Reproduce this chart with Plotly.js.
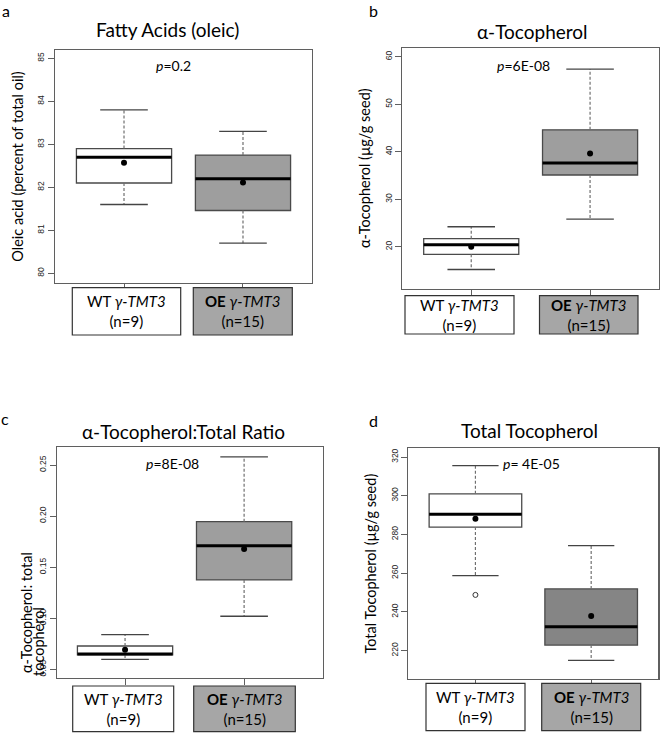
<!DOCTYPE html>
<html>
<head>
<meta charset="utf-8">
<script src="https://cdn.plot.ly/plotly-3.0.1.min.js"></script>
<style>html,body{margin:0;padding:0;background:#fff}</style>
</head>
<body>
<div id="chart" style="width:660px;height:733px"></div>
<script>
// ---------------- DATA ----------------
const categories = ["WT γ-TMT3", "OE γ-TMT3"];
const groupN = [9, 15];
const panelTitles = ["Fatty Acids (oleic)", "α-Tocopherol", "α-Tocopherol:Total Ratio", "Total Tocopherol"];
const panelLetters = ["a", "b", "c", "d"];
const pValues = ["0.2", "6E-08", "8E-08", " 4E-05"];
const yTitles = ["Oleic acid (percent of total oil)", "α-Tocopherol (µg/g seed)", "α-Tocopherol: total tocopherol", "Total Tocopherol (µg/g seed)"];

// panel a: oleic acid (% of total oil)
const oleicQ1 = [82.10, 81.46];
const oleicMedian = [82.70, 82.20];
const oleicQ3 = [82.90, 82.75];
const oleicLower = [81.60, 80.70];
const oleicUpper = [83.80, 83.30];
const oleicMean = [82.57, 82.11];

// panel b: alpha-tocopherol (µg/g seed)
const alphaQ1 = [18.4, 35.1];
const alphaMedian = [20.4, 37.6];
const alphaQ3 = [21.7, 44.6];
const alphaLower = [15.2, 25.8];
const alphaUpper = [24.2, 57.4];
const alphaMean = [20.0, 39.6];

// panel c: alpha : total ratio
const ratioQ1 = [0.0642, 0.1376];
const ratioMedian = [0.0652, 0.1710];
const ratioQ3 = [0.0729, 0.1945];
const ratioLower = [0.0599, 0.1020];
const ratioUpper = [0.0840, 0.2580];
const ratioMean = [0.0693, 0.1678];

// panel d: total tocopherol (µg/g seed)
const totalQ1 = [283.8, 222.9];
const totalMedian = [290.5, 232.3];
const totalQ3 = [301.0, 251.9];
const totalLower = [258.8, 215.0];
const totalUpper = [315.5, 274.2];
const totalMean = [288.1, 237.9];
const totalOutliersWT = [248.8];

// y tick labels
const yTicks = [
  [80, 81, 82, 83, 84, 85],
  [20, 30, 40, 50, 60],
  [0.05, 0.10, 0.15, 0.20, 0.25],
  [220, 240, 260, 280, 300, 320]
];

// ---------------- LAYOUT CONFIG (pixels) ----------------
const W = 660, H = 733;
const px = p => p / W;
const py = p => 1 - p / H;
const positions = [1, 2];

const panels = [
  {stats:[oleicQ1, oleicMedian, oleicQ3, oleicLower, oleicUpper, oleicMean],
   box:[55,312,50,283], xr:[0.42,2.58], yr:[79.774,85.193], fmt:"d", oeFill:"#9e9e9e",
   lab:{y:[287.7,335], x:[[72.3,180.7],[193.3,292.3]]},
   title:[167.7,30], letter:[6,11], p:[173,66]},
  {stats:[alphaQ1, alphaMedian, alphaQ3, alphaLower, alphaUpper, alphaMean],
   box:[402.3,659,47.7,288.7], xr:[0.42,2.58], yr:[11.158,61.895], fmt:"d", oeFill:"#9e9e9e",
   lab:{y:[295.7,334], x:[[405,514],[539.5,638]]},
   title:[532.5,31.5], letter:[373,11], p:[523,66]},
  {stats:[ratioQ1, ratioMedian, ratioQ3, ratioLower, ratioUpper, ratioMean],
   box:[56.7,322.7,446.7,677.7], xr:[0.426,2.66], yr:[0.0419,0.2679], fmt:".2f", oeFill:"#9e9e9e",
   lab:{y:[686,731.7], x:[[72.7,173.7],[193.7,295.3]]},
   title:[183.5,431.5], letter:[5,418], p:[172,463]},
  {stats:[totalQ1, totalMedian, totalQ3, totalLower, totalUpper, totalMean],
   box:[408.3,658.3,448.3,679], xr:[0.42,2.58], yr:[205.39,324.49], fmt:"d", oeFill:"#858585",
   lab:{y:[683.3,730.7], x:[[426,525],[541.7,640.7]]},
   title:[529.5,430], letter:[373,420], p:[531,463]}
];

const FONT = "Lato, 'Open Sans', sans-serif";
const SANS = "'Liberation Sans', Arial, sans-serif";
const frameColor = "#5f5f5f";

const traces = [];
const layout = {
  width: W, height: H,
  margin: {l:0, r:0, t:0, b:0},
  paper_bgcolor: "#fff", plot_bgcolor: "#fff",
  showlegend: false,
  boxmode: "overlay",
  font: {family: FONT, color: "#000"},
  shapes: [], annotations: []
};

panels.forEach((P, k) => {
  const sfx = k === 0 ? "" : String(k + 1);
  const xa = "x" + sfx, ya = "y" + sfx;
  const [q1, med, q3, lo, hi, mn] = P.stats;

  layout["xaxis" + sfx] = {
    domain: [px(P.box[0]), px(P.box[1])], range: P.xr, anchor: ya,
    showline: true, mirror: true, linecolor: frameColor, linewidth: 1.2,
    ticks: "outside", tickvals: positions, ticklen: 6, tickcolor: frameColor, tickwidth: 1,
    showticklabels: false, showgrid: false, zeroline: false, fixedrange: true
  };
  layout["yaxis" + sfx] = {
    domain: [py(P.box[3]), py(P.box[2])], range: P.yr, anchor: xa,
    showline: true, mirror: true, linecolor: frameColor, linewidth: 1.2,
    ticks: "outside", ticklen: 6, tickcolor: frameColor, tickwidth: 1,
    tickvals: yTicks[k], tickformat: P.fmt,
    tickangle: -90, tickfont: {family: SANS, size: 8.5, color: "#222"},
    showgrid: false, zeroline: false, fixedrange: true
  };
  if (k !== 2) {
    layout["yaxis" + sfx].title = {text: yTitles[k], font: {family: FONT, size: 14.5, color: "#000"}, standoff: 9};
  }

  // boxes (whiskers drawn separately, dashed as in the original)
  categories.forEach((c, i) => {
    traces.push({
      type: "box", xaxis: xa, yaxis: ya, name: c,
      x: [positions[i]], q1: [q1[i]], median: [med[i]], q3: [q3[i]],
      lowerfence: [q1[i]], upperfence: [q3[i]],
      width: 0.8, whiskerwidth: 0,
      fillcolor: i === 0 ? "#ffffff" : P.oeFill,
      line: {color: "#4a4a4a", width: 1.3},
      hoverinfo: "skip"
    });
  });
  // dashed whiskers
  traces.push({
    type: "scatter", mode: "lines", xaxis: xa, yaxis: ya, hoverinfo: "skip",
    x: positions.flatMap(p => [p, p, null, p, p, null]),
    y: categories.flatMap((c, i) => [q3[i], hi[i], null, q1[i], lo[i], null]),
    line: {color: "#6f6f6f", width: 1.2, dash: "3px,2px"}
  });
  // staples
  traces.push({
    type: "scatter", mode: "lines", xaxis: xa, yaxis: ya, hoverinfo: "skip",
    x: positions.flatMap(p => [p - 0.2, p + 0.2, null, p - 0.2, p + 0.2, null]),
    y: categories.flatMap((c, i) => [hi[i], hi[i], null, lo[i], lo[i], null]),
    line: {color: "#444", width: 1.3}
  });
  // medians
  traces.push({
    type: "scatter", mode: "lines", xaxis: xa, yaxis: ya, hoverinfo: "skip",
    x: positions.flatMap(p => [p - 0.4, p + 0.4, null]),
    y: categories.flatMap((c, i) => [med[i], med[i], null]),
    line: {color: "#000", width: 3}
  });
  // means
  traces.push({
    type: "scatter", mode: "markers", xaxis: xa, yaxis: ya, hoverinfo: "skip",
    x: positions, y: mn, marker: {color: "#000", size: 6}
  });
  if (k === 3) {
    traces.push({
      type: "scatter", mode: "markers", xaxis: xa, yaxis: ya, hoverinfo: "skip",
      x: totalOutliersWT.map(() => positions[0]), y: totalOutliersWT,
      marker: {color: "#333", size: 5, symbol: "circle-open", line: {color: "#333", width: 1}}
    });
  }

  // group label boxes
  categories.forEach((c, i) => {
    const bx = P.lab.x[i];
    layout.shapes.push({
      type: "rect", xref: "paper", yref: "paper",
      x0: px(bx[0]), x1: px(bx[1]), y0: py(P.lab.y[1]), y1: py(P.lab.y[0]),
      line: {color: "#333", width: 1.2},
      fillcolor: i === 0 ? "#ffffff" : "#a6a6a6", layer: "above"
    });
    const parts = c.split(" ");
    const head = i === 0 ? parts[0] : "<b>" + parts[0] + "</b>";
    layout.annotations.push({
      xref: "paper", yref: "paper",
      x: px((bx[0] + bx[1]) / 2), y: py((P.lab.y[0] + P.lab.y[1]) / 2),
      xanchor: "center", yanchor: "middle", showarrow: false,
      text: head + " <i>" + parts[1] + "</i><br>(n=" + groupN[i] + ")",
      font: {family: FONT, size: 15, color: "#000"}
    });
  });

  // title, letter, p-value
  layout.annotations.push({
    xref: "paper", yref: "paper", x: px(P.title[0]), y: py(P.title[1]),
    xanchor: "center", yanchor: "middle", showarrow: false,
    text: panelTitles[k], font: {family: FONT, size: 19, color: "#000"}
  });
  layout.annotations.push({
    xref: "paper", yref: "paper", x: px(P.letter[0]), y: py(P.letter[1]),
    xanchor: "center", yanchor: "middle", showarrow: false,
    text: panelLetters[k], font: {family: FONT, size: 16, color: "#000"}
  });
  layout.annotations.push({
    xref: "paper", yref: "paper", x: px(P.p[0]), y: py(P.p[1]),
    xanchor: "center", yanchor: "middle", showarrow: false,
    text: "<i>p</i>=" + pValues[k], font: {family: FONT, size: 14, color: "#000"}
  });
});

// panel c y title: two left-aligned lines, the second overlapping tick labels as in the original
const cWords = yTitles[2].split(" ");
layout.annotations.push({
  xref: "paper", yref: "paper", x: px(26.5), y: py(612.5),
  xanchor: "center", yanchor: "middle", showarrow: false, textangle: -90,
  text: cWords.slice(0, 2).join(" "), font: {family: FONT, size: 14.5, color: "#000"}
});
layout.annotations.push({
  xref: "paper", yref: "paper", x: px(38.5), y: py(641.5),
  xanchor: "center", yanchor: "middle", showarrow: false, textangle: -90,
  text: cWords.slice(2).join(" "), font: {family: FONT, size: 14.5, color: "#000"}
});

Plotly.newPlot("chart", traces, layout, {staticPlot: true, displayModeBar: false});
</script>
</body>
</html>
